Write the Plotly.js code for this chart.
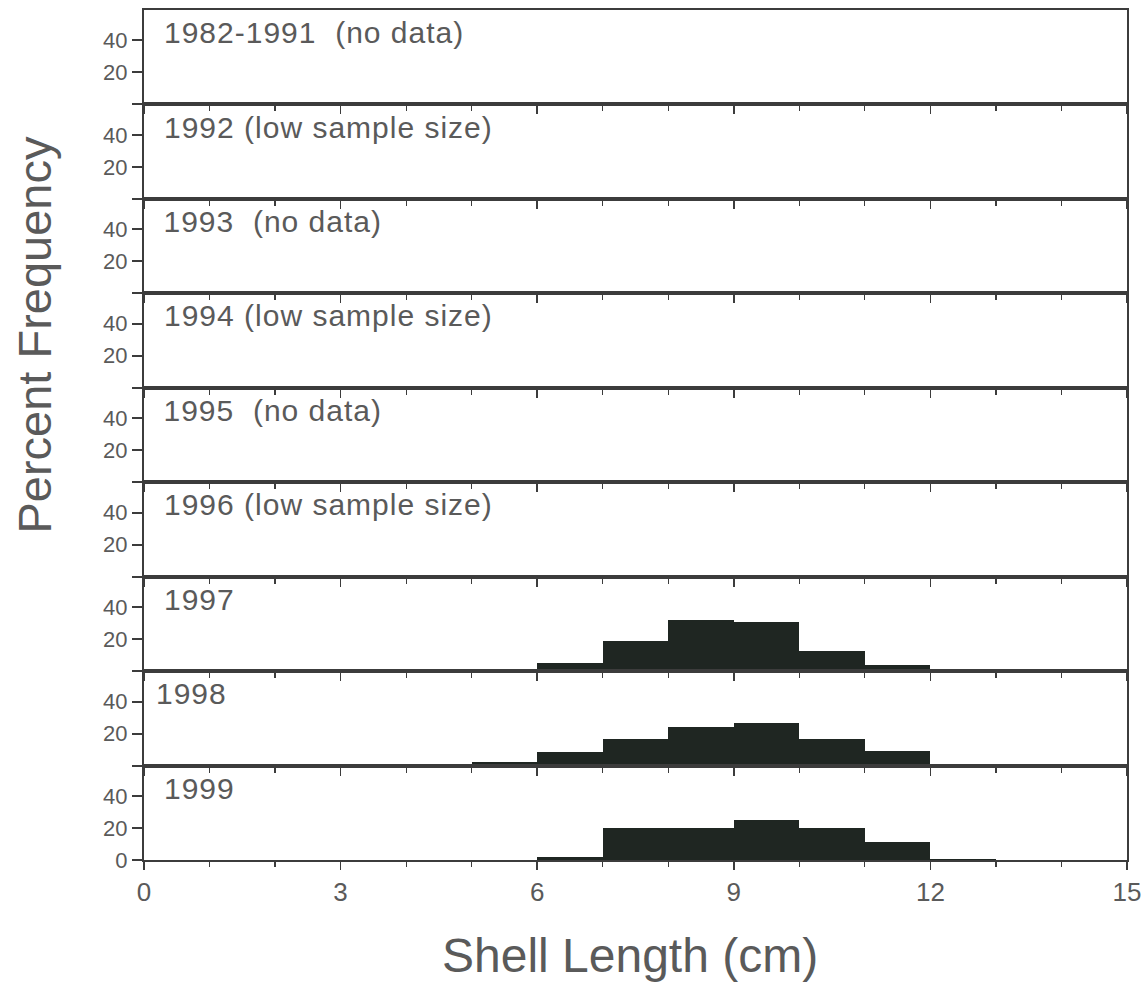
<!DOCTYPE html>
<html>
<head>
<meta charset="utf-8">
<script src="https://cdn.plot.ly/plotly-3.0.1.min.js"></script>
<style>
html,body{margin:0;padding:0;background:#fff;}
#chart{width:1144px;height:985px;}
.panel-label text{letter-spacing:1px;}
</style>
</head>
<body>
<div id="chart"></div>
<script>
// Panel labels, top to bottom
const panelLabels = ["1982-1991\u00a0\u00a0(no data)", "1992 (low sample size)", "1993\u00a0\u00a0(no data)", "1994 (low sample size)", "1995\u00a0\u00a0(no data)", "1996 (low sample size)", "1997", "1998", "1999"];
// Shell length bins (cm): bin centers of 1-cm classes 5-6 ... 12-13
const binCenters = [5.5, 6.5, 7.5, 8.5, 9.5, 10.5, 11.5, 12.5];
// Percent frequency per bin
const freq1997 = [0, 4.8, 18.6, 31.8, 30.7, 12.8, 3.9, 0];
const freq1998 = [2.2, 8.3, 16.4, 23.9, 26.8, 16.4, 9.4, 0.6];
const freq1999 = [0, 1.6, 20.2, 20.2, 25.0, 19.8, 11.4, 0.9];
const panelData = [null, null, null, null, null, null, freq1997, freq1998, freq1999];
const xTickVals = [0, 3, 6, 9, 12, 15];
const yTickVals = [0, 20, 40];
const yTickTextUpper = ['', '20', '40'];
const yTickTextBottom = ['0', '20', '40'];

const N = panelLabels.length;
const lineCol = '#3c3c3c';
const textCol = '#5a5a5a';
const font = 'Liberation Sans, Arial, sans-serif';
const pxPerCm = 983 / 15;
const traces = [];
const layout = {
  width: 1144, height: 985,
  margin: {l: 144, r: 17, t: 10, b: 125},
  paper_bgcolor: '#fff', plot_bgcolor: '#fff',
  showlegend: false, bargap: 0,
  font: {family: font, color: textCol},
  annotations: []
};
for (let i = 0; i < N; i++) {
  const k = i + 1;
  const sx = k === 1 ? '' : String(k);
  const top = 1 - i / N, bot = 1 - (i + 1) / N;
  const isBottom = i === N - 1;
  layout['xaxis' + sx] = {
    domain: [0, 1], anchor: 'y' + sx, range: [0, 15],
    showline: true, linecolor: lineCol, linewidth: 2, mirror: true,
    ticks: 'outside', tickvals: xTickVals, ticklen: 8, tickwidth: 1.5, tickcolor: lineCol,
    minor: {dtick: 1, tick0: 0, ticks: 'outside', ticklen: 5, tickwidth: 1.2, tickcolor: lineCol},
    showticklabels: isBottom, tickfont: {size: 26, color: textCol, family: font},
    showgrid: false, zeroline: false, fixedrange: true
  };
  layout['yaxis' + sx] = {
    domain: [bot, top], anchor: 'x' + sx, range: [0, 59],
    showline: true, linecolor: lineCol, linewidth: 2, mirror: true,
    ticks: 'outside', tickvals: yTickVals, ticktext: isBottom ? yTickTextBottom : yTickTextUpper,
    ticklen: 10, tickwidth: 2, tickcolor: lineCol,
    tickfont: {size: 22, color: textCol, family: font},
    showgrid: false, zeroline: false, fixedrange: true
  };
  if (panelData[i]) {
    traces.push({
      type: 'bar', x: binCenters, y: panelData[i], width: 1,
      xaxis: 'x' + sx, yaxis: 'y' + sx,
      marker: {color: '#1f2622', line: {width: 0}}, hoverinfo: 'skip'
    });
  }
  // letter-spacing widens text symmetrically around the annotation centre; compensate
  const leftCm = (i === 7 ? 0.16 : 0.27) + (panelLabels[i].length * 0.5) / pxPerCm;
  layout.annotations.push({
    text: panelLabels[i], xref: 'x' + sx, yref: 'y' + sx + ' domain',
    x: leftCm, y: 0.76, xanchor: 'left', yanchor: 'middle',
    showarrow: false, font: {size: 30, color: textCol, family: font}
  });
}
layout.annotations.push({
  text: 'Percent Frequency', xref: 'paper', yref: 'paper', x: -0.111, y: 0.618,
  textangle: -90, xanchor: 'center', yanchor: 'middle', showarrow: false,
  font: {size: 47, color: textCol, family: font}
});
layout.annotations.push({
  text: 'Shell Length (cm)', xref: 'paper', yref: 'paper', x: 0.494, y: -0.112,
  xanchor: 'center', yanchor: 'middle', showarrow: false,
  font: {size: 48, color: textCol, family: font}
});
Plotly.newPlot('chart', traces, layout, {staticPlot: true, displayModeBar: false}).then(function (gd) {
  document.querySelectorAll('#chart .annotation').forEach(function (el) {
    const idx = parseInt(el.getAttribute('data-index'), 10);
    if (idx < N) el.classList.add('panel-label');
  });
});
</script>
</body>
</html>
